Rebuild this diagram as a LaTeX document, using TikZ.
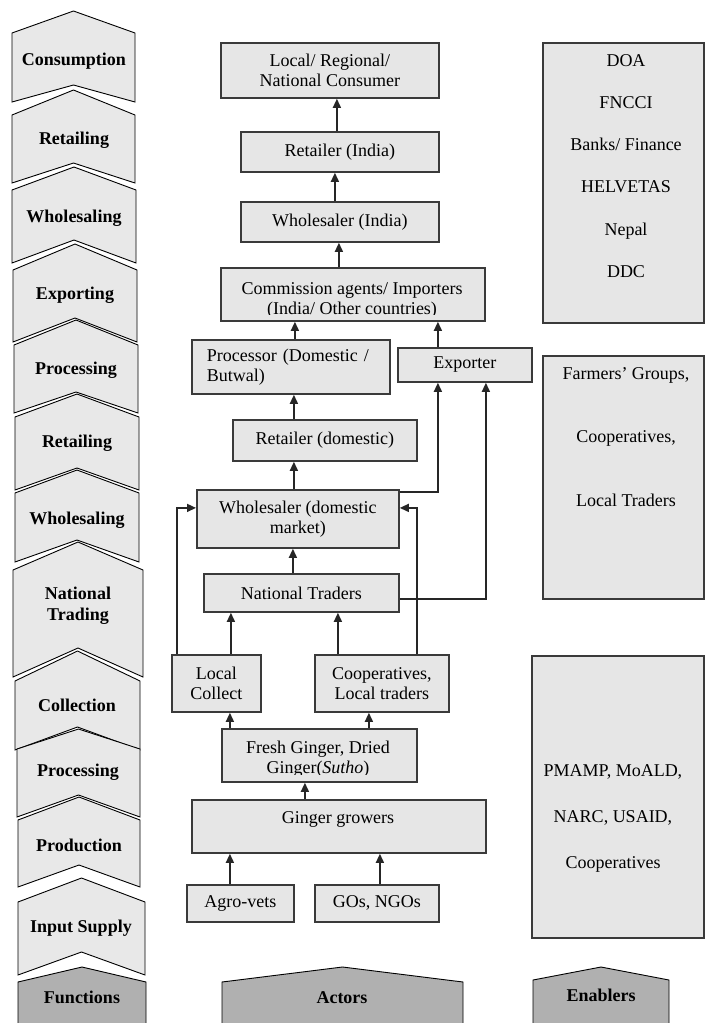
\documentclass[tikz,border=0pt]{standalone}
\usepackage{fontspec}
\setmainfont{Liberation Serif}
\usetikzlibrary{arrows.meta}

\definecolor{boxgray}{HTML}{E6E6E6}
\definecolor{chevgray}{HTML}{E8E8E8}
\definecolor{headgray}{HTML}{B0B0B0}
\definecolor{edgegray}{HTML}{3A3A3A}

% chevron: [style]{x left}{x right}{y top corners}{y peak}{y bottom corners}{y notch}
\newcommand\fchev[7][chev]{%
  \draw[#1] (#2,#4) -- ({(#2+#3)/2},#5) -- (#3,#4) -- (#3,#6)
    -- ({(#2+#3)/2},#7) -- (#2,#6) -- cycle;}

\begin{document}
\begin{tikzpicture}[x=1pt,y=-1pt,
  font=\fontsize{18}{20}\selectfont,
  chev/.style={draw=black,line width=0.9pt,fill=chevgray,line join=miter},
  head/.style={draw=black,line width=0.9pt,fill=headgray},
  lbl/.style={font=\fontsize{18}{21}\selectfont\bfseries,align=center,inner sep=0pt},
  box/.style={draw=edgegray,line width=1.8pt,fill=boxgray,inner sep=0pt,
    anchor=north west,align=center},
  txt/.style={inner sep=0pt,align=center},
  arr/.style={draw=black!85,line width=1.5pt,-{Triangle[length=9pt,width=8pt]}}]

\useasboundingbox (0,0) rectangle (705,1023);

% ---------- functions column ----------
\fchev{12}{135}{33}{11}{102}{85}
\fchev{12}{135}{115}{90}{183}{163}
\fchev{12}{136}{190}{167}{263}{240}
\fchev{13}{137}{270}{244}{342}{318}
\fchev{14}{138}{345}{320}{413}{392}
\fchev{15}{139}{417}{394}{490}{468}
\fchev{15}{139}{493}{470}{562}{540}
\fchev{13}{143}{570}{542}{677}{648}
\fchev{15}{140}{681}{651}{750}{727}
\fchev{17}{140}{749}{729}{817}{795}
\fchev{18}{140}{820}{797}{887}{865}
\fchev{18}{145}{902}{878}{975}{952}
\fchev[head]{18}{146}{982}{967}{1030}{1030}

\node[lbl] (fCons)    at (74,61)  {Consumption};
\node[lbl] (fRet1)    at (74,140) {Retailing};
\node[lbl] (fWhole1)  at (74,218) {Wholesaling};
\node[lbl] (fExport)  at (75,295) {Exporting};
\node[lbl] (fProc1)   at (76,370) {Processing};
\node[lbl] (fRet2)    at (77,443) {Retailing};
\node[lbl] (fWhole2)  at (77,520) {Wholesaling};
\node[lbl] (fNat)     at (78,606) {National\\Trading};
\node[lbl] (fCollect) at (77,705) {Collection};
\node[lbl] (fProc2)   at (78,772) {Processing};
\node[lbl] (fProd)    at (79,845) {Production};
\node[lbl] (fInput)   at (81,928) {Input Supply};
\node[lbl] (fFunc)    at (82,997) {Functions};

% ---------- column headers ----------
\fchev[head]{222}{463}{982}{967}{1030}{1030}
\fchev[head]{533}{669}{980}{967}{1030}{1030}
\node[lbl] (hActors) at (342,998) {Actors};
\node[lbl] (hEnab)   at (601,995) {Enablers};

% ---------- actors ----------
\node[box,minimum width=218pt,minimum height=55pt] (cons) at (220,42)
  {Local/ Regional/\\National Consumer};
\node[box,minimum width=198pt,minimum height=40pt] (retI) at (240,131) {Retailer (India)};
\node[box,minimum width=198pt,minimum height=40pt] (wsI) at (240,201) {Wholesaler (India)};
\node[box,minimum width=264pt,minimum height=53pt] (comm) at (220,267) {};
\begin{scope}
  \clip (comm.north west) rectangle ([yshift=7pt]comm.south east);
  \node[txt] (commtxt) at (352,300.5) {Commission agents/ Importers\\(India/ Other countries)};
\end{scope}
\node[box,minimum width=198pt,minimum height=54pt,text width=168pt,align=left] (proc) at (191,339)
  {Processor (Domestic /\\Butwal)};
\node[box,minimum width=134pt,minimum height=34pt] (expo) at (397,347) {Exporter};
\node[box,minimum width=184pt,minimum height=41pt] (retD) at (232,419) {Retailer (domestic)};
\node[box,minimum width=202pt,minimum height=58pt] (wsD) at (196,489) {Wholesaler (domestic\\market)};
\node[box,minimum width=195pt,minimum height=38pt] (natT) at (203,573) {National Traders};
\node[box,minimum width=89pt,minimum height=57pt] (locC) at (171,654) {Local\\Collect};
\node[box,minimum width=134pt,minimum height=57pt] (coop) at (314,654) {Cooperatives,\\Local traders};
\node[box,minimum width=195pt,minimum height=53pt] (fresh) at (221,728) {};
\begin{scope}
  \clip (fresh.north west) rectangle ([yshift=8pt]fresh.south east);
  \node[txt] (freshtxt) at (318,759.5) {Fresh Ginger, Dried\\Ginger(\textit{Sutho})};
\end{scope}
\node[box,minimum width=294pt,minimum height=53pt] (grow) at (191,799) {};
\node[txt] (growtxt) at (338,819) {Ginger growers};
\node[box,minimum width=107pt,minimum height=37pt] (agro) at (186,884) {Agro-vets};
\node[box,minimum width=124pt,minimum height=37pt] (gos) at (314,884) {GOs, NGOs};

% ---------- enablers ----------
\node[box,minimum width=161pt,minimum height=280pt] (en1) at (542,42) {};
\node[box,minimum width=161pt,minimum height=243pt] (en2) at (542,355) {};
\node[box,minimum width=172pt,minimum height=282pt] (en3) at (531,655) {};
\node[txt,font=\fontsize{18}{42.2}\selectfont] (en1txt) at (626,166)
  {DOA\\FNCCI\\Banks/ Finance\\HELVETAS\\Nepal\\DDC};
\node[txt,font=\fontsize{18}{63.5}\selectfont] (en2txt) at (626,437)
  {Farmers' Groups,\\Cooperatives,\\Local Traders};
\node[txt,font=\fontsize{18}{46}\selectfont] (en3txt) at (613,818)
  {PMAMP, MoALD,\\NARC, USAID,\\Cooperatives};

% ---------- flows ----------
\draw[arr] ([xshift=-3pt]retI.north) -- ([xshift=-3pt]retI.north |- cons.south);
\draw[arr] ([xshift=-5pt]wsI.north) -- ([xshift=-5pt]wsI.north |- retI.south);
\draw[arr] ([xshift=-1pt]wsI.south |- comm.north) -- ([xshift=-1pt]wsI.south);
\draw[arr] ([xshift=4pt]proc.north) -- ([xshift=4pt]proc.north |- comm.south);
\draw[arr] ([xshift=-27pt]expo.north) -- ([xshift=-27pt]expo.north |- comm.south);
\draw[arr] ([xshift=-31pt]retD.north) -- ([xshift=-31pt]retD.north |- proc.south);
\draw[arr] ([xshift=-4pt]wsD.north) -- ([xshift=-4pt]wsD.north |- retD.south);
\draw[arr] ([xshift=-8.5pt]natT.north) -- ([xshift=-8.5pt]natT.north |- wsD.south);
\draw[arr] ([xshift=14.5pt]locC.north) -- ([xshift=14.5pt]locC.north |- natT.south);
\draw[arr] ([xshift=-44pt]coop.north) -- ([xshift=-44pt]coop.north |- natT.south);
\draw[arr] ([xshift=13.5pt]locC.south |- fresh.north) -- ([xshift=13.5pt]locC.south);
\draw[arr] ([xshift=-13pt]coop.south |- fresh.north) -- ([xshift=-13pt]coop.south);
\draw[arr] ([xshift=-14.5pt]fresh.south |- grow.north) -- ([xshift=-14.5pt]fresh.south);
\draw[arr] ([xshift=-10.5pt]agro.north) -- ([xshift=-10.5pt]agro.north |- grow.south);
\draw[arr] ([xshift=3pt]gos.north) -- ([xshift=3pt]gos.north |- grow.south);

\draw[arr] ([yshift=-3pt]wsD.north east) -| ([xshift=-27pt]expo.south);
\draw[arr] ([yshift=-6pt]natT.east) -| ([xshift=21pt]expo.south);
\draw[arr] ([xshift=6pt]locC.north west) |- ([yshift=11pt]wsD.west);
\draw[arr] ([xshift=103pt]coop.north west) |- ([yshift=11pt]wsD.east);

\end{tikzpicture}
\end{document}
